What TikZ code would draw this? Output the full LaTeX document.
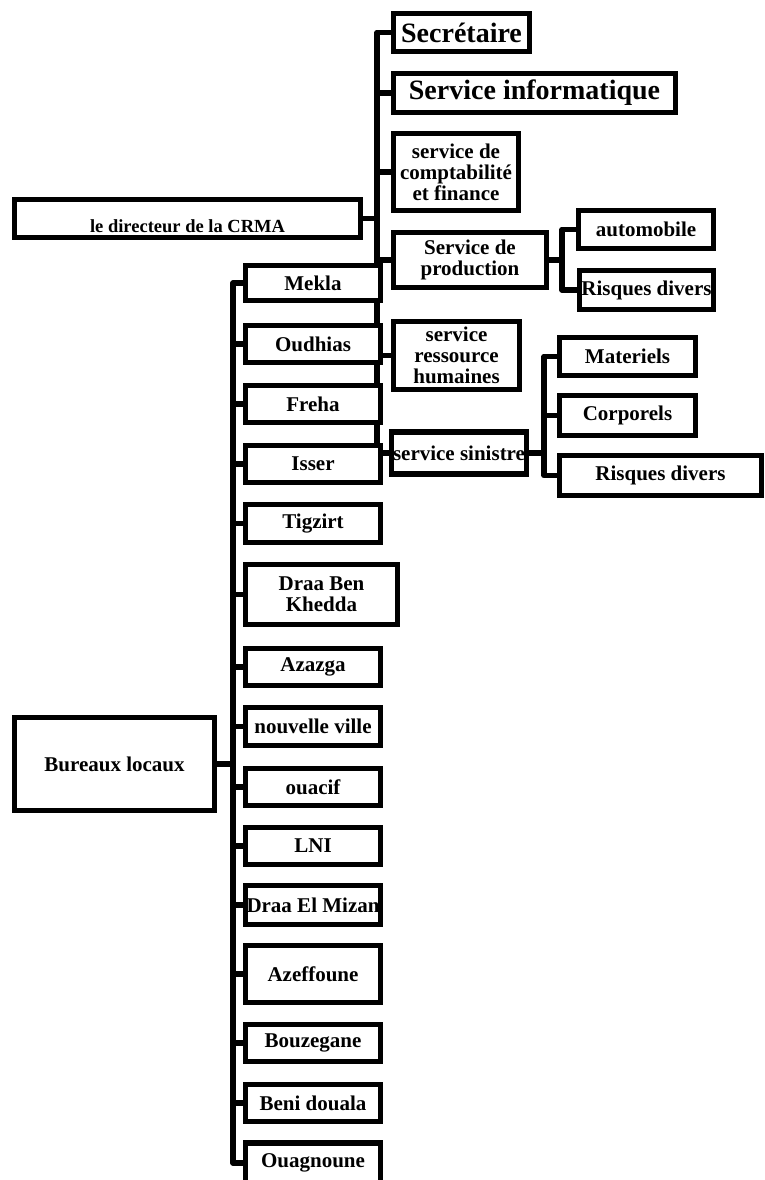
\documentclass[tikz,border=0pt]{standalone}
\usepackage{fontspec}
\setmainfont{Liberation Serif}
\usetikzlibrary{backgrounds}
\begin{document}
\begin{tikzpicture}[x=1pt,y=-1pt]
\def\lw{5.5pt} %width of borders and links
\def\btx{313} %centre x of the bureau boxes
\def\bw{135} %width of the bureau boxes

\tikzstyle{box} = [rectangle, draw, line width=\lw, fill=white, inner sep=1pt, align=center, font=\bfseries\fontsize{21}{21}\selectfont]
\tikzstyle{bigbox} = [box, font=\bfseries\fontsize{28}{30}\selectfont]
\tikzstyle{link} = [line width=\lw, line join=round]

\useasboundingbox (0,0) rectangle (765,1180);

% direction and services
\node[box, minimum width=346pt, minimum height=38pt, inner sep=0pt, text height=32pt, text depth=5pt, font=\bfseries\fontsize{18.5}{20}\selectfont] (dir) at (187.5,218.5) {le directeur de la CRMA};
\node[bigbox, minimum width=136pt, minimum height=38pt] (secr) at (461.5,32.5) {Secrétaire};
\node[bigbox, minimum width=282pt, minimum height=39pt] (info) at (534.5,93) {Service informatique};
\node[box, minimum width=125pt, minimum height=77pt] (compta) at (456,172) {service de\\comptabilité\\et finance};
\node[box, minimum width=153pt, minimum height=55pt] (prod) at (470,260) {Service de\\production};
\node[box, minimum width=126pt, minimum height=68pt] (rh) at (456.5,355.5) {service\\ressource\\humaines};
\node[box, minimum width=135pt, minimum height=42pt, inner sep=0pt] (sin) at (459,453) {service sinistre};

% production and sinistre branches
\node[box, minimum width=135pt, minimum height=38pt] (auto) at (646,229.5) {automobile};
\node[box, minimum width=134pt, minimum height=39pt] (rdp) at (646.5,290) {Risques divers};
\node[box, minimum width=136pt, minimum height=38pt] (mat) at (627.5,356.5) {Materiels};
\node[box, minimum width=136pt, minimum height=40pt] (corp) at (627.5,415.5) {Corporels};
\node[box, minimum width=202pt, minimum height=40pt] (rds) at (660.5,475.5) {Risques divers};

% bureaux locaux
\node[box, minimum width=200pt, minimum height=93pt] (bur) at (114.5,764) {Bureaux locaux};
\foreach \nm/\cy/\bh/\txt in {mekla/283/35/Mekla, oudhias/344/37/Oudhias, freha/404/37/Freha, isser/464/37/Isser, tigzirt/523.5/38/Tigzirt, azazga/667/37/Azazga, nville/726.5/38/nouvelle ville, ouacif/787/37/ouacif, lni/846/37/LNI, dem/905/39/Draa El Mizan, azeffoune/974/57/Azeffoune, bouzegane/1043/37/Bouzegane, benidouala/1103/37/Beni douala, ouagnoune/1163/40/Ouagnoune}{
\node[box, minimum width=\bw, minimum height=\bh] (\nm) at (\btx,\cy) {\txt};
}
\node[box, minimum width=152pt, minimum height=60pt] (dbk) at (321.5,594.5) {Draa Ben\\Khedda};

\coordinate (mtrunk) at (377,0);
\coordinate (ptrunk) at (562,0);
\coordinate (strunk) at (544,0);
\coordinate (btrunk) at (233,0);

\begin{pgfonlayer}{background}
\draw[link] (secr.west) -| (sin.west -| mtrunk) -- (sin.west);
\foreach \nm in {info,compta,prod,rh}{
\draw[link] (\nm.west) -- (\nm.west -| mtrunk);
}
\draw[link] (dir.east) -- (dir.east -| mtrunk);

\draw[link] (prod.east) -- (prod.east -| ptrunk);
\draw[link] (auto.west) -| (rdp.west -| ptrunk) -- (rdp.west);

\draw[link] (sin.east) -- (sin.east -| strunk);
\draw[link] (mat.west) -| (rds.west -| strunk) -- (rds.west);
\draw[link] (corp.west) -- (corp.west -| strunk);

\draw[link] (mekla.west) -| (ouagnoune.west -| btrunk) -- (ouagnoune.west);
\foreach \nm in {oudhias,freha,isser,tigzirt,dbk,azazga,nville,ouacif,lni,dem,azeffoune,bouzegane,benidouala}{
\draw[link] (\nm.west) -- (\nm.west -| btrunk);
}
\draw[link] (bur.east) -- (bur.east -| btrunk);
\end{pgfonlayer}

\end{tikzpicture}
\end{document}
